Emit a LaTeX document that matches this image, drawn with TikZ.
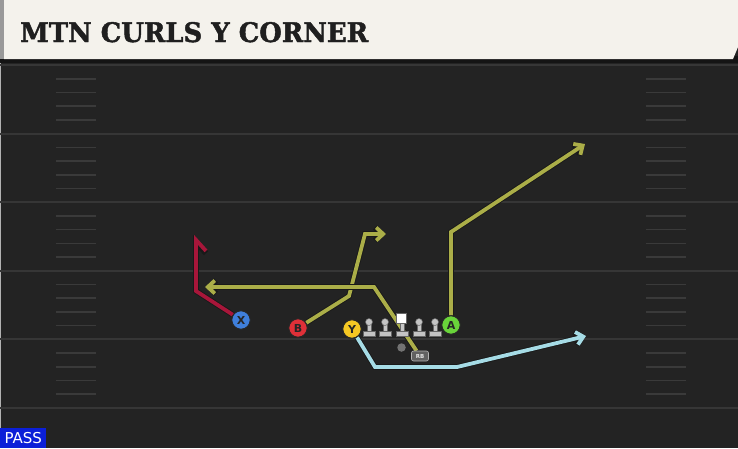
\documentclass[tikz,border=0pt]{standalone}
\usepackage{fontspec}
\usepackage{graphicx}
\setmainfont{DejaVu Sans}
\newfontfamily\titlefont[BoldFeatures={FakeBold=1.6}]{DejaVu Serif}
\usetikzlibrary{arrows.meta}
\pgfdeclarelayer{turf}
\pgfdeclarelayer{routes}
\pgfsetlayers{turf,routes,main}
\definecolor{field}{HTML}{232323}
\definecolor{band}{HTML}{141414}
\definecolor{cream}{HTML}{F4F2EC}
\definecolor{yardline}{HTML}{363636}
\definecolor{hashline}{HTML}{3A3A3A}
\definecolor{olive}{HTML}{ABAE48}
\definecolor{skyblue}{HTML}{A6DCE6}
\definecolor{crimson}{HTML}{A8163A}
\definecolor{xblue}{HTML}{3F7FDB}
\definecolor{bred}{HTML}{DF3038}
\definecolor{yyellow}{HTML}{F6C823}
\definecolor{agreen}{HTML}{69D43A}
\definecolor{passblue}{HTML}{0B1FD8}
\definecolor{linegray}{HTML}{C4C4C4}

\begin{document}
\begin{tikzpicture}[x=1pt, y=-1pt,
    player/.style = {draw=black!85, circle, line width=1pt, inner sep=0pt, minimum size=18.5pt, text=black!85, font=\bfseries\fontsize{11}{11}\selectfont},
    route/.style = {line width=3.8pt, line join=miter, preaction={draw=black!90, line width=5.6pt}},
    tip/.style = {-{Straight Barb[length=7pt, width=13pt]}},
    flag/.style = {-{Straight Barb[harpoon, swap, length=11pt, width=20pt]}},
    lineman/.style = {fill=linegray, draw=black!60, line width=0.5pt},
    rbbox/.style = {draw=black!30, fill=black!62, rounded corners=2pt, line width=0.6pt, inner sep=0pt, minimum width=17pt, minimum height=10pt, text=black!10, font=\bfseries\fontsize{5.5}{5.5}\selectfont}]
    \useasboundingbox (0,0) rectangle (738,448);
    \begin{pgfonlayer}{turf}
    \fill[field] (0,0) rectangle (738,448);
    \fill[band] (0,56) rectangle (738,63);
    \fill[cream] (4,0) -- (738,0) -- (738,47) -- (733,59) -- (4,59) -- cycle;
    \fill[black!40] (0,0) rectangle (4,59);
    \draw[black!30, line width=1pt] (0.5,63) -- (0.5,448);
    \foreach \i in {0,...,5} {
        \draw[yardline, line width=2pt] (0,65+68.6*\i) -- (738,65+68.6*\i);
    }
    \foreach \i in {0,...,4} {
        \foreach \k in {1,...,4} {
            \draw[hashline, line width=1.6pt] (56,65+68.6*\i+13.72*\k) -- (96,65+68.6*\i+13.72*\k);
            \draw[hashline, line width=1.6pt] (646,65+68.6*\i+13.72*\k) -- (686,65+68.6*\i+13.72*\k);
        }
    }
    \end{pgfonlayer}
    \node[anchor=base west, inner sep=0pt, text=black!88] (title) at (20,42) {\resizebox{348pt}{20pt}{\titlefont\bfseries MTN CURLS Y CORNER}};

    \node[player, fill=xblue] (X) at (241,320) {X};
    \node[player, fill=bred] (B) at (298,328) {B};
    \node[player, fill=yyellow] (Y) at (352,329) {Y};
    \node[player, fill=agreen] (A) at (451,325) {A};
    \node[rbbox] (RB) at (420,356) {RB};
    \node[circle, fill=black!55, inner sep=0pt, minimum size=8.5pt] (QB) at (401.5,347.5) {};

    \coordinate (x1) at (196,291);
    \coordinate (x2) at (196,235);
    \coordinate (b1) at (349,296);
    \coordinate (b2) at (365,234);
    \coordinate (b3) at (386,234);
    \coordinate (r1) at (374,287);
    \coordinate (r2) at (205,287);
    \coordinate (a1) at (451,232);
    \coordinate (a2) at (585,144);
    \coordinate (y1) at (375,367);
    \coordinate (y2) at (457,367);
    \coordinate (y3) at (586,336);

    \begin{pgfonlayer}{routes}
    \draw[route, flag, crimson] (X) -- (x1) -- (x2);
    \draw[route, tip, olive] (B) -- (b1) -- (b2) -- (b3);
    \draw[route, tip, olive] (RB) -- (r1) -- (r2);
    \draw[route, tip, olive] (A) -- (a1) -- (a2);
    \draw[route, tip, skyblue] (Y) -- (y1) -- (y2) -- (y3);
    \end{pgfonlayer}

    \foreach \x in {369,385,419,435} {
        \draw[lineman] (\x-2,322) rectangle (\x+2,333);
        \draw[lineman] (\x-6,331) rectangle (\x+6,336.5);
        \draw[lineman] (\x,322) circle (3.5pt);
    }
    \draw[lineman] (400,322) rectangle (404,333);
    \draw[lineman] (396,331) rectangle (408,336.5);
    \node[fill=white, draw=black!60, line width=0.5pt, inner sep=0pt, minimum size=10pt] (C) at (401.5,318.5) {};

    \node[fill=passblue, text=white, anchor=south west, inner sep=0pt, minimum width=46pt, minimum height=20pt, font=\fontsize{15}{15}\selectfont] (pass) at (0,448) {PASS};
\end{tikzpicture}
\end{document}
